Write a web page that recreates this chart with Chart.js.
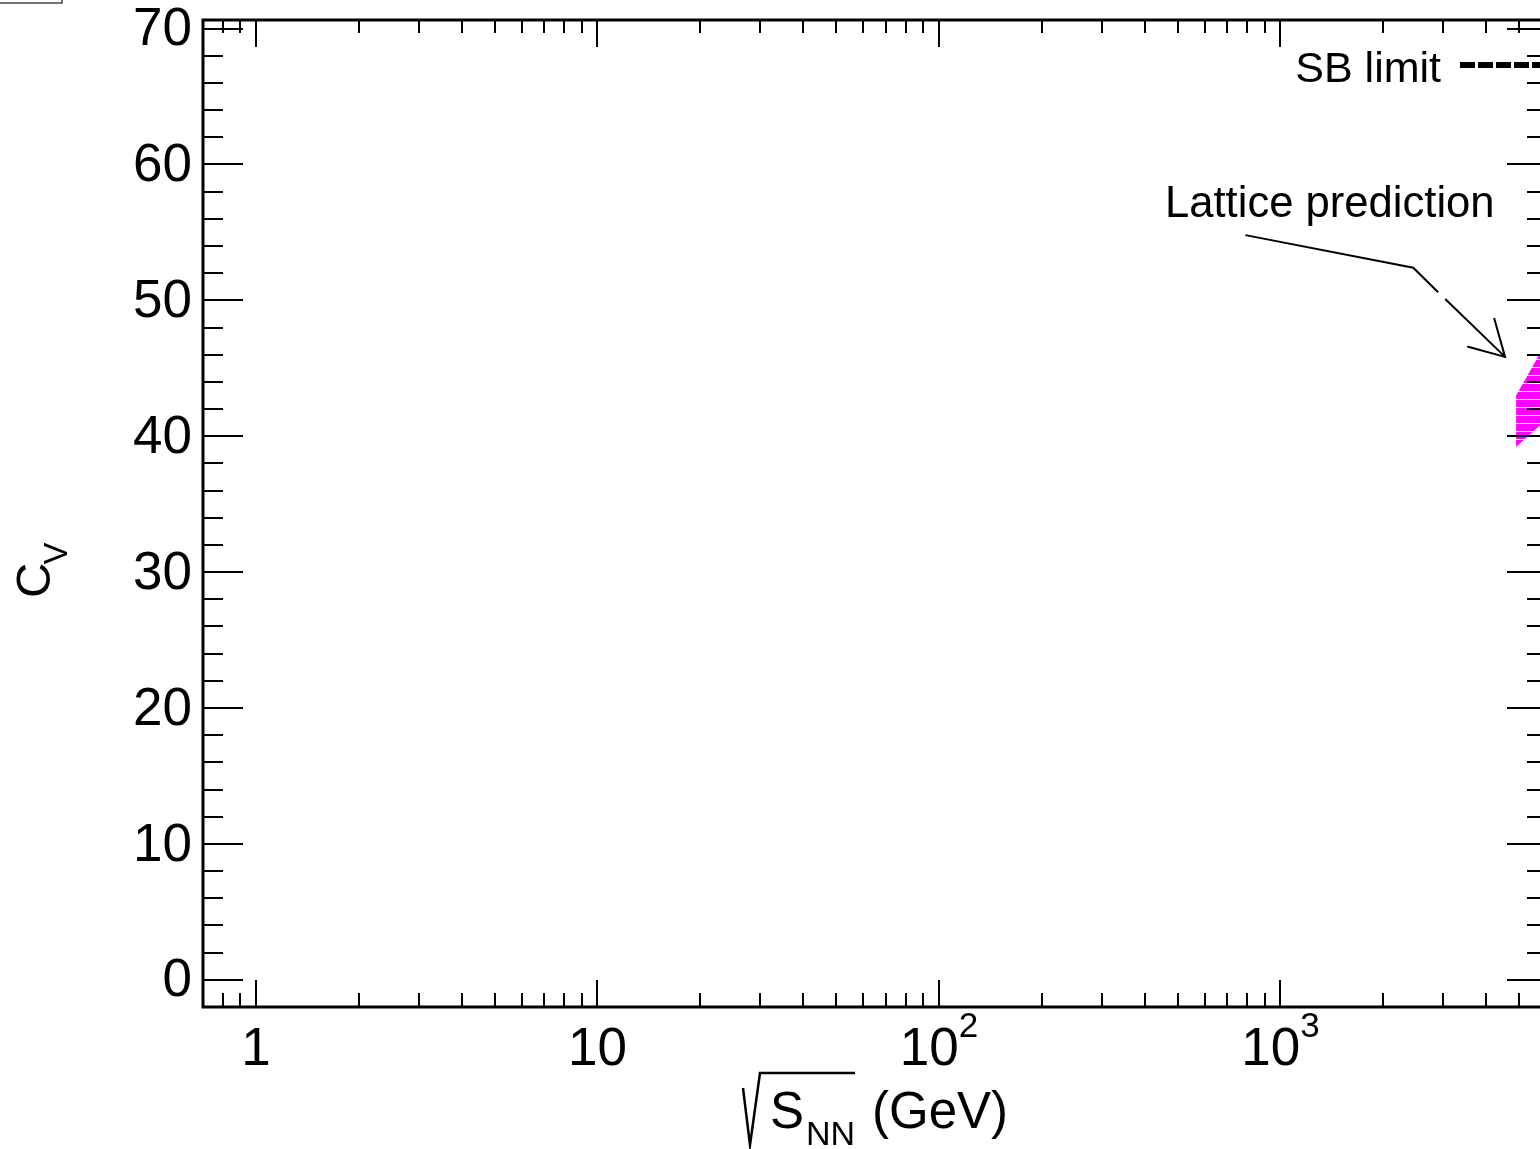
<!DOCTYPE html>
<html>
<head>
<meta charset="utf-8">
<script src="https://cdn.jsdelivr.net/npm/chart.js@4/dist/chart.umd.min.js"></script>
<style>
  html, body { margin: 0; padding: 0; background: #fff; overflow: hidden; }
  #wrap { width: 1600px; height: 1149px; }
</style>
</head>
<body>
<div id="wrap"><canvas id="c" width="1600" height="1149"></canvas></div>
<script>
// ---- data ----
const xMajorTicks = [1, 10, 100, 1000];
const xTickBase   = ['1', '10', '10', '10'];
const xTickExp    = ['', '', '2', '3'];
const xMinorTicks = [0.8, 0.9, 2, 3, 4, 5, 6, 7, 8, 9, 20, 30, 40, 50, 60, 70, 80, 90,
                     200, 300, 400, 500, 600, 700, 800, 900, 2000, 3000, 4000, 5000, 6000];
const yMajorTicks = [0, 10, 20, 30, 40, 50, 60, 70];
const yMinorTicks = [-2, 2, 4, 6, 8, 12, 14, 16, 18, 22, 24, 26, 28, 32, 34, 36, 38, 42, 44, 46, 48,
                     52, 54, 56, 58, 62, 64, 66, 68, 70];

// Lattice prediction band
const bandX     = [4900, 5700, 6035];
const bandUpper = [43.0, 45.9, 46.9];
const bandLower = [39.2, 40.7, 41.2];

// annotation arrow (drawn in data coordinates)
const arrowLine1X = [790, 2449, 2897];
const arrowLine1Y = [54.8, 52.4, 50.6];
const arrowLine2X = [3038, 4549];
const arrowLine2Y = [50.1, 45.84];
const arrowHeadX  = [4224, 4549, 3524];
const arrowHeadY  = [48.7, 45.84, 46.6];

const FONT = "'Liberation Sans', Arial, Helvetica, sans-serif";

function pts(xs, ys) { return xs.map((x, i) => ({ x: x, y: ys[i] })); }

// hatch pattern: magenta with thin white horizontal lines
const pc = document.createElement('canvas');
pc.width = 8; pc.height = 8;
const pctx = pc.getContext('2d');
pctx.fillStyle = '#ff00ff'; pctx.fillRect(0, 0, 8, 8);
pctx.fillStyle = '#ffffff'; pctx.fillRect(0, 7, 8, 1);
const ctxMain = document.getElementById('c').getContext('2d');
const hatch = ctxMain.createPattern(pc, 'repeat');

const framePlugin = {
  id: 'frame',
  afterDraw(chart) {
    const ctx = chart.ctx;
    const a = chart.chartArea;
    const xs = chart.scales.x, ys = chart.scales.y;
    ctx.save();
    ctx.strokeStyle = '#000';
    // ticks
    ctx.lineWidth = 2;
    ctx.beginPath();
    xMajorTicks.forEach(v => {
      const px = Math.round(xs.getPixelForValue(v));
      ctx.moveTo(px, a.bottom); ctx.lineTo(px, a.bottom - 27);
      ctx.moveTo(px, a.top); ctx.lineTo(px, a.top + 27);
    });
    xMinorTicks.forEach(v => {
      const px = Math.round(xs.getPixelForValue(v));
      if (px < a.left || px > a.right) return;
      ctx.moveTo(px, a.bottom); ctx.lineTo(px, a.bottom - 14);
      ctx.moveTo(px, a.top); ctx.lineTo(px, a.top + 13);
    });
    yMajorTicks.forEach(v => {
      const py = Math.round(ys.getPixelForValue(v));
      ctx.moveTo(a.left, py); ctx.lineTo(a.left + 40, py);
      ctx.moveTo(a.right, py); ctx.lineTo(a.right - 40, py);
    });
    yMinorTicks.forEach(v => {
      const py = Math.round(ys.getPixelForValue(v));
      if (py < a.top || py > a.bottom) return;
      ctx.moveTo(a.left, py); ctx.lineTo(a.left + 20, py);
      ctx.moveTo(a.right, py); ctx.lineTo(a.right - 20, py);
    });
    ctx.stroke();
    // frame
    ctx.lineWidth = 3;
    ctx.strokeRect(a.left, a.top, a.right - a.left, a.bottom - a.top);

    // x tick labels (with superscript exponents)
    ctx.fillStyle = '#000';
    ctx.textBaseline = 'alphabetic';
    xMajorTicks.forEach((v, i) => {
      const px = xs.getPixelForValue(v);
      ctx.font = '53px ' + FONT;
      const bw = ctx.measureText(xTickBase[i]).width;
      ctx.font = '35px ' + FONT;
      const ew = xTickExp[i] ? ctx.measureText(xTickExp[i]).width : 0;
      const x0 = px - (bw + ew) / 2;
      ctx.textAlign = 'left';
      ctx.font = '53px ' + FONT;
      ctx.fillText(xTickBase[i], x0, 1065);
      if (xTickExp[i]) {
        ctx.font = '35px ' + FONT;
        ctx.fillText(xTickExp[i], x0 + bw, 1037);
      }
    });

    // legend: SB limit
    ctx.font = '43px ' + FONT;
    ctx.textAlign = 'right';
    ctx.fillText('SB limit', 1441, 82);
    ctx.lineWidth = 6;
    ctx.setLineDash([15, 3]);
    ctx.beginPath();
    ctx.moveTo(1460, 65); ctx.lineTo(1600, 65);
    ctx.stroke();
    ctx.setLineDash([]);

    // annotation text
    ctx.font = '43.6px ' + FONT;
    ctx.textAlign = 'left';
    ctx.fillText('Lattice prediction', 1165, 217);

    // y axis title C_V
    ctx.save();
    ctx.translate(50, 598);
    ctx.rotate(-Math.PI / 2);
    ctx.font = '49px ' + FONT;
    ctx.textAlign = 'left';
    ctx.fillText('C', 0, 0);
    const cw = ctx.measureText('C').width;
    ctx.font = '33px ' + FONT;
    ctx.fillText('V', cw - 2, 17);
    ctx.restore();

    // x axis title  sqrt(S_NN) (GeV)
    ctx.lineWidth = 2.5;
    ctx.beginPath();
    ctx.moveTo(743, 1088);
    ctx.lineTo(750, 1145);
    ctx.lineTo(760, 1073);
    ctx.lineTo(855, 1073);
    ctx.stroke();
    ctx.font = '51px ' + FONT;
    ctx.textAlign = 'left';
    ctx.fillText('S', 770, 1128);
    ctx.font = '34px ' + FONT;
    ctx.fillText('NN', 806, 1145);
    ctx.font = '51px ' + FONT;
    ctx.fillText('(GeV)', 872, 1128);

    // small box at top-left corner
    ctx.lineWidth = 1.5;
    ctx.strokeStyle = '#444';
    ctx.strokeRect(-2, -2, 64, 5);
    ctx.restore();
  }
};

const lineDs = (xs, ys) => ({
  data: pts(xs, ys), showLine: true, borderColor: '#000', borderWidth: 2,
  pointRadius: 0, fill: false, tension: 0
});

new Chart(document.getElementById('c'), {
  type: 'scatter',
  data: {
    datasets: [
      { data: pts(bandX, bandUpper), showLine: true, borderWidth: 0, borderColor: 'rgba(0,0,0,0)',
        pointRadius: 0, fill: '+1', backgroundColor: hatch, tension: 0 },
      { data: pts(bandX, bandLower), showLine: true, borderWidth: 0, borderColor: 'rgba(0,0,0,0)',
        pointRadius: 0, fill: false, tension: 0 },
      lineDs(arrowLine1X, arrowLine1Y),
      lineDs(arrowLine2X, arrowLine2Y),
      lineDs(arrowHeadX, arrowHeadY)
    ]
  },
  options: {
    responsive: false,
    devicePixelRatio: 1,
    animation: false,
    layout: { padding: { left: 0, right: 53, top: 20, bottom: 0 } },
    plugins: { legend: { display: false }, tooltip: { enabled: false } },
    scales: {
      x: {
        type: 'logarithmic',
        min: 0.7094, max: 6035,
        grid: { display: false, drawTicks: false },
        border: { display: false },
        afterBuildTicks: s => { s.ticks = xMajorTicks.map(v => ({ value: v })); },
        afterFit: s => { s.height = 142; s.paddingLeft = 0; s.paddingRight = 0; },
        ticks: { display: false }
      },
      y: {
        type: 'linear',
        min: -2.0, max: 70.63,
        grid: { display: false, drawTicks: false },
        border: { display: false },
        afterBuildTicks: s => { s.ticks = yMajorTicks.map(v => ({ value: v })); },
        afterFit: s => { s.width = 203; s.paddingTop = 0; s.paddingBottom = 0; },
        ticks: {
          padding: 11, color: '#000', labelOffset: 2,
          font: { family: FONT, size: 53 },
          callback: v => String(v)
        }
      }
    }
  },
  plugins: [framePlugin]
});
</script>
</body>
</html>
